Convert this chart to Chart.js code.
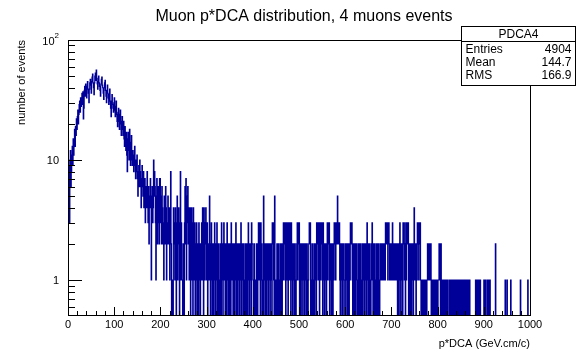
<!DOCTYPE html>
<html>
<head>
<meta charset="utf-8">
<title>Muon p*DCA distribution, 4 muons events</title>
<script src="https://cdn.jsdelivr.net/npm/chart.js"></script>
<style>
  html, body { margin: 0; padding: 0; background: #fff; }
  #c { display: block; }
</style>
</head>
<body>
<canvas id="c" width="576" height="351"></canvas>
<script>
// PDCA4: p*DCA for 4-muon events, 1000 bins of width 1 from 0 to 1000
const histName = 'PDCA4';
const histTitle = 'Muon p*DCA distribution, 4 muons events';
const xTitle = 'p*DCA (GeV.cm/c)';
const yTitle = 'number of events';
const xMin = 0;
const xMax = 1000;
const binWidth = 1;

const counts0to99 = [
  5, 8, 10, 6, 3, 9, 12, 6, 8, 11,
  13, 9, 15, 11, 14, 18, 13, 19, 16, 22,
  18, 23, 26, 20, 24, 29, 31, 25, 33, 28,
  32, 36, 29, 37, 22, 27, 38, 41, 34, 43,
  37, 33, 41, 45, 39, 36, 30, 39, 44, 47,
  42, 36, 45, 49, 52, 44, 40, 35, 44, 50,
  53, 46, 56, 48, 43, 39, 45, 50, 44, 41,
  38, 34, 43, 47, 49, 42, 40, 36, 32, 40,
  44, 46, 38, 34, 30, 38, 42, 36, 33, 29,
  35, 39, 31, 27, 23, 31, 35, 29, 27, 25
];
const counts100to199 = [
  30, 33, 26, 23, 28, 31, 24, 21, 19, 25,
  27, 21, 18, 24, 26, 20, 16, 21, 23, 18,
  16, 21, 15, 13, 19, 14, 12, 17, 11, 8,
  15, 17, 12, 10, 18, 11, 9, 14, 16, 10,
  9, 12, 10, 8, 11, 13, 9, 7, 10, 8,
  11, 7, 5, 8, 9, 6, 10, 8, 6, 4,
  7, 9, 6, 5, 8, 4, 6, 7, 3, 5,
  6, 4, 8, 5, 3, 6, 2, 4, 5, 7,
  4, 1, 5, 6, 3, 4, 10, 5, 8, 6,
  3, 1, 5, 7, 2, 4, 6, 3, 2, 7
];
const counts200to299 = [
  7, 3, 5, 2, 6, 4, 2, 3, 1, 5,
  3, 2, 6, 4, 1, 3, 2, 5, 3, 2,
  4, 1, 3, 8, 2, 0, 0, 1, 0, 4,
  2, 3, 1, 4, 2, 0, 3, 5, 1, 2,
  4, 3, 0, 2, 8, 1, 3, 2, 1, 0,
  1, 2, 0, 3, 6, 2, 7, 1, 5, 3,
  6, 2, 4, 1, 3, 4, 0, 2, 4, 1,
  3, 0, 4, 2, 1, 3, 0, 2, 1, 3,
  0, 2, 1, 0, 3, 1, 2, 0, 1, 2,
  3, 1, 4, 2, 0, 4, 1, 3, 2, 4
];
const counts300to399 = [
  1, 2, 3, 0, 1, 2, 1, 5, 2, 0,
  1, 3, 2, 0, 1, 2, 0, 1, 3, 1,
  0, 2, 1, 3, 0, 1, 2, 0, 1, 0,
  2, 1, 0, 3, 1, 2, 0, 1, 3, 2,
  1, 0, 2, 1, 0, 3, 2, 1, 0, 2,
  0, 2, 1, 0, 3, 1, 2, 1, 0, 2,
  1, 0, 2, 1, 3, 0, 1, 2, 0, 1,
  2, 1, 0, 2, 1, 3, 0, 1, 2, 1,
  0, 2, 1, 0, 1, 2, 0, 1, 2, 0,
  1, 3, 2, 0, 1, 2, 1, 0, 3, 2
];
const counts400to499 = [
  2, 1, 0, 1, 2, 0, 1, 1, 0, 2,
  1, 0, 2, 3, 1, 3, 2, 0, 3, 1,
  2, 0, 1, 0, 5, 1, 2, 0, 1, 2,
  0, 2, 1, 2, 0, 1, 2, 1, 0, 2,
  1, 2, 0, 3, 2, 3, 1, 0, 5, 1,
  0, 1, 0, 2, 1, 0, 2, 1, 0, 1,
  2, 0, 1, 2, 0, 1, 2, 3, 1, 3,
  2, 3, 0, 3, 1, 2, 3, 0, 2, 3,
  1, 3, 2, 0, 3, 1, 2, 0, 1, 2,
  1, 0, 2, 1, 0, 1, 2, 3, 1, 3
];
const counts500to599 = [
  2, 3, 0, 1, 2, 0, 1, 2, 1, 0,
  2, 1, 2, 0, 1, 2, 1, 0, 2, 1,
  0, 1, 2, 3, 2, 3, 0, 1, 0, 2,
  1, 0, 1, 2, 0, 1, 2, 1, 0, 3,
  2, 3, 1, 3, 2, 0, 3, 2, 1, 3,
  2, 3, 0, 3, 1, 2, 0, 1, 2, 1,
  0, 2, 3, 1, 3, 2, 3, 0, 1, 2,
  1, 0, 2, 1, 0, 2, 1, 3, 2, 3,
  1, 2, 3, 2, 5, 3, 2, 3, 3, 1,
  0, 2, 1, 2, 0, 1, 2, 2, 0, 1
];
const counts600to699 = [
  1, 2, 0, 1, 2, 1, 0, 2, 1, 0,
  2, 1, 3, 3, 2, 3, 1, 0, 2, 1,
  0, 2, 1, 0, 2, 1, 2, 0, 1, 0,
  2, 1, 0, 2, 1, 0, 1, 2, 0, 1,
  2, 1, 0, 2, 1, 2, 0, 1, 3, 1,
  0, 2, 1, 0, 2, 1, 0, 1, 2, 3,
  1, 0, 2, 1, 0, 2, 1, 0, 1, 2,
  0, 1, 2, 0, 1, 0, 2, 1, 1, 2,
  1, 2, 1, 1, 2, 1, 2, 1, 3, 2,
  3, 2, 3, 1, 2, 3, 2, 1, 2, 1
];
const counts700to799 = [
  2, 1, 2, 3, 1, 2, 1, 2, 1, 2,
  1, 1, 2, 1, 0, 2, 1, 0, 2, 3,
  1, 0, 2, 1, 2, 0, 3, 2, 3, 1,
  2, 0, 3, 1, 2, 3, 2, 3, 0, 1,
  2, 0, 1, 2, 0, 2, 1, 2, 0, 1,
  4, 2, 1, 2, 0, 2, 1, 3, 2, 3,
  1, 3, 2, 3, 1, 0, 1, 0, 1, 1,
  0, 1, 0, 1, 1, 0, 1, 0, 1, 2,
  1, 2, 2, 1, 2, 1, 2, 0, 1, 0,
  1, 1, 0, 1, 0, 1, 1, 0, 1, 0
];
const counts800to899 = [
  1, 0, 1, 1, 2, 1, 2, 0, 2, 1,
  0, 1, 0, 0, 1, 1, 0, 1, 1, 0,
  1, 1, 0, 1, 0, 0, 0, 1, 0, 1,
  0, 1, 1, 0, 1, 1, 0, 1, 0, 1,
  1, 0, 1, 1, 0, 1, 0, 1, 1, 0,
  1, 1, 0, 1, 0, 1, 1, 0, 1, 0,
  0, 1, 0, 0, 1, 1, 0, 0, 1, 0,
  1, 0, 0, 0, 0, 0, 0, 0, 0, 0,
  0, 0, 0, 1, 0, 0, 1, 1, 0, 0,
  1, 0, 0, 1, 0, 0, 0, 0, 0, 0
];
const counts900to999 = [
  0, 1, 0, 0, 1, 1, 0, 0, 0, 1,
  0, 0, 1, 0, 1, 0, 0, 0, 0, 0,
  0, 0, 0, 0, 0, 0, 2, 0, 0, 0,
  0, 0, 0, 0, 0, 0, 0, 0, 0, 0,
  0, 0, 0, 0, 0, 0, 0, 1, 0, 0,
  0, 1, 0, 0, 0, 0, 0, 0, 0, 1,
  0, 0, 0, 0, 0, 0, 0, 0, 0, 0,
  0, 0, 0, 0, 0, 0, 0, 0, 0, 0,
  1, 0, 0, 0, 0, 0, 0, 0, 0, 0,
  0, 0, 0, 0, 0, 0, 1, 0, 0, 0
];

// stats box rows as printed by ROOT
const statLabels = ['Entries', 'Mean', 'RMS'];
const statValues = ['4904', '144.7', '166.9'];

// axis ticks
const xTickValues = [0, 100, 200, 300, 400, 500, 600, 700, 800, 900, 1000];
const xMinorStep = 20;
const yMin = 0.511;
const yMax = 100;
const yTickValues = [1, 10, 100];
const yTickLabels = ['1', '10', '10^2'];

const counts = [].concat(
  counts0to99, counts100to199, counts200to299, counts300to399, counts400to499,
  counts500to599, counts600to699, counts700to799, counts800to899, counts900to999
);

// empty bins drop to the bottom of the frame like ROOT does on a log axis
const floorValue = 0.1;
const points = [{ x: xMin, y: floorValue }];
counts.forEach((c, i) => {
  points.push({ x: xMin + i * binWidth, y: c > 0 ? c : floorValue });
});
const lastCount = counts[counts.length - 1];
points.push({ x: xMax, y: lastCount > 0 ? lastCount : floorValue });
points.push({ x: xMax, y: floorValue });

const FONT = '"Liberation Sans", Arial, Helvetica, sans-serif';

const rootFrame = {
  id: 'rootFrame',
  afterDatasetsDraw(chart) {
    const { ctx, chartArea: a, scales } = chart;
    const xs = scales.x;
    const ys = scales.y;
    ctx.save();
    ctx.strokeStyle = '#000';
    ctx.lineWidth = 1;
    ctx.strokeRect(a.left + 0.5, a.top + 0.5, a.right - a.left, a.bottom - a.top);

    // x ticks, pointing up into the frame
    ctx.beginPath();
    for (let v = xMin; v <= xMax; v += xMinorStep) {
      const px = Math.round(xs.getPixelForValue(v)) + 0.5;
      const len = xTickValues.includes(v) ? 8 : 4;
      ctx.moveTo(px, a.bottom);
      ctx.lineTo(px, a.bottom - len);
    }
    // log y ticks, pointing right into the frame
    [0.1, 1, 10, 100].forEach(dec => {
      for (let m = 1; m <= 9; m++) {
        const v = m * dec;
        if (v < yMin || v > yMax + 1e-9) continue;
        const py = Math.round(ys.getPixelForValue(v)) + 0.5;
        const len = m === 1 ? 14 : 7;
        ctx.moveTo(a.left, py);
        ctx.lineTo(a.left + len, py);
      }
    });
    ctx.stroke();
    ctx.restore();
  },
  afterDraw(chart) {
    const { ctx, chartArea: a, scales } = chart;
    const xs = scales.x;
    const ys = scales.y;
    ctx.save();
    ctx.fillStyle = '#000';

    // title
    ctx.font = '16px ' + FONT;
    ctx.textAlign = 'center';
    ctx.textBaseline = 'middle';
    ctx.fillText(histTitle, 304, 17);

    // x tick labels
    ctx.font = '11px ' + FONT;
    ctx.textBaseline = 'middle';
    xTickValues.forEach(v => {
      ctx.fillText(String(v), xs.getPixelForValue(v), 325);
    });

    // y tick labels, with superscript exponent
    ctx.textAlign = 'right';
    yTickValues.forEach((v, i) => {
      const py = ys.getPixelForValue(v) + 1;
      const [base, exp] = yTickLabels[i].split('^');
      let right = a.left - 9;
      if (exp) {
        ctx.font = '8px ' + FONT;
        ctx.fillText(exp, right, py - 5);
        right -= ctx.measureText(exp).width;
        ctx.font = '11px ' + FONT;
      }
      ctx.fillText(base, right, py + (exp ? 1 : 0));
    });

    // axis titles, right-aligned at the axis ends
    ctx.fillText(xTitle, a.right, 344);
    ctx.save();
    ctx.translate(22, a.top);
    ctx.rotate(-Math.PI / 2);
    ctx.textAlign = 'right';
    ctx.fillText(yTitle, 0, 0);
    ctx.restore();

    // stats box
    const bx = 461.5, by = 26.5, bw = 114, bh = 59;
    ctx.fillStyle = '#fff';
    ctx.fillRect(bx, by, bw, bh);
    ctx.strokeStyle = '#000';
    ctx.lineWidth = 1;
    ctx.strokeRect(bx, by, bw, bh);
    ctx.beginPath();
    ctx.moveTo(bx, 41.5);
    ctx.lineTo(bx + bw, 41.5);
    ctx.stroke();
    ctx.fillStyle = '#000';
    ctx.font = '12px ' + FONT;
    ctx.textAlign = 'center';
    ctx.fillText(histName, bx + bw / 2, 34.5);
    statLabels.forEach((lab, i) => {
      const ty = 50 + i * 13;
      ctx.textAlign = 'left';
      ctx.fillText(lab, bx + 4, ty);
      ctx.textAlign = 'right';
      ctx.fillText(statValues[i], bx + bw - 4, ty);
    });
    ctx.restore();
  }
};

new Chart(document.getElementById('c'), {
  type: 'line',
  data: {
    datasets: [{
      label: histName,
      data: points,
      borderColor: '#000099',
      borderWidth: 1.2,
      pointRadius: 0,
      fill: false,
      stepped: 'after',
      tension: 0
    }]
  },
  options: {
    responsive: false,
    animation: false,
    devicePixelRatio: 1,
    events: [],
    layout: { padding: { left: 68, top: 40, right: 46, bottom: 36 } },
    plugins: {
      legend: { display: false },
      title: { display: false },
      tooltip: { enabled: false }
    },
    scales: {
      x: { type: 'linear', min: xMin, max: xMax, display: false },
      y: { type: 'logarithmic', min: yMin, max: yMax, display: false }
    }
  },
  plugins: [rootFrame]
});
</script>
</body>
</html>
